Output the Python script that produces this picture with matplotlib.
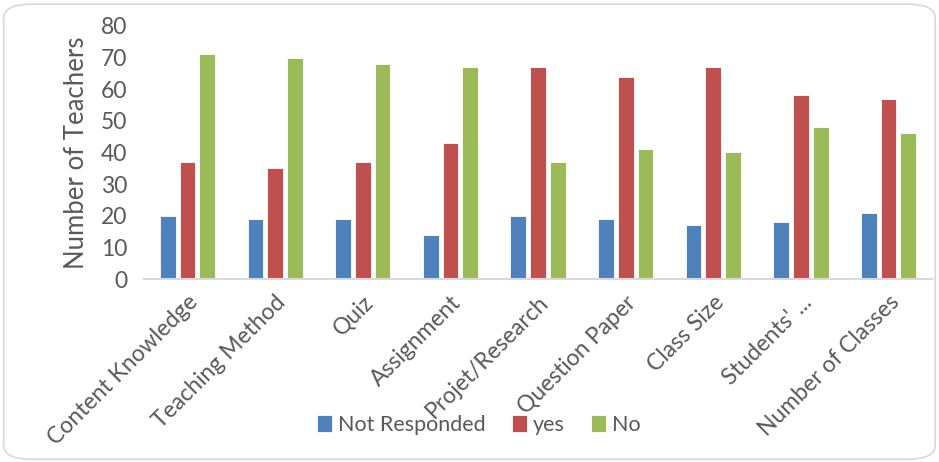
import numpy as np
import matplotlib.pyplot as plt
from matplotlib.patches import FancyBboxPatch

# data
categories = ["Content Knowledge", "Teaching Method", "Quiz", "Assignment",
              "Projet/Research", "Question Paper", "Class Size", "Students' ...",
              "Number of Classes"]
not_responded = [20, 19, 19, 14, 20, 19, 17, 18, 21]
yes = [37, 35, 37, 43, 67, 64, 67, 58, 57]
no = [71, 70, 68, 67, 37, 41, 40, 48, 46]

plt.rcParams['font.family'] = ['Lato', 'DejaVu Sans']
txt = '#595959'

fig = plt.figure(figsize=(9.39, 4.62), dpi=100)
ax = fig.add_axes([0.153, 0.396, 0.840, 0.548])

x = np.arange(len(categories))
w = 0.18
step = 0.225
ax.bar(x - step, not_responded, w, color='#4F81BD', edgecolor='white', linewidth=0.6, label='Not Responded')
ax.bar(x, yes, w, color='#C0504D', edgecolor='white', linewidth=0.6, label='yes')
ax.bar(x + step, no, w, color='#9BBB59', edgecolor='white', linewidth=0.6, label='No')

ax.set_xlim(-0.5, 8.5)
ax.set_ylim(0, 80)
ax.set_yticks(range(0, 81, 10))
ax.set_xticks(x)
ax.set_xticklabels(categories, rotation=45, ha='right', rotation_mode='anchor', fontsize=16.5)
ax.tick_params(axis='both', length=0, colors=txt)
ax.tick_params(axis='y', labelsize=16.5, pad=12)
ax.tick_params(axis='x', pad=9)
for s in ['top', 'right', 'left']:
    ax.spines[s].set_visible(False)
ax.spines['bottom'].set_color('#D9D9D9')
ax.spines['bottom'].set_linewidth(1.5)
ax.set_ylabel('Number of Teachers', fontsize=18.5, color=txt, labelpad=8)

fig.legend(loc='center', bbox_to_anchor=(0.51, 0.08), ncol=3, frameon=False,
           fontsize=15.5, handlelength=0.7, handleheight=0.8, handletextpad=0.3,
           columnspacing=1.2, labelcolor=txt)

border = FancyBboxPatch((0.004, 0.006), 0.992, 0.985, boxstyle='round,pad=0,rounding_size=0.03',
                        transform=fig.transFigure, facecolor='none', edgecolor='#D9D9D9', linewidth=1.2)
fig.patches.append(border)

fig.savefig('out.png', dpi=100)
